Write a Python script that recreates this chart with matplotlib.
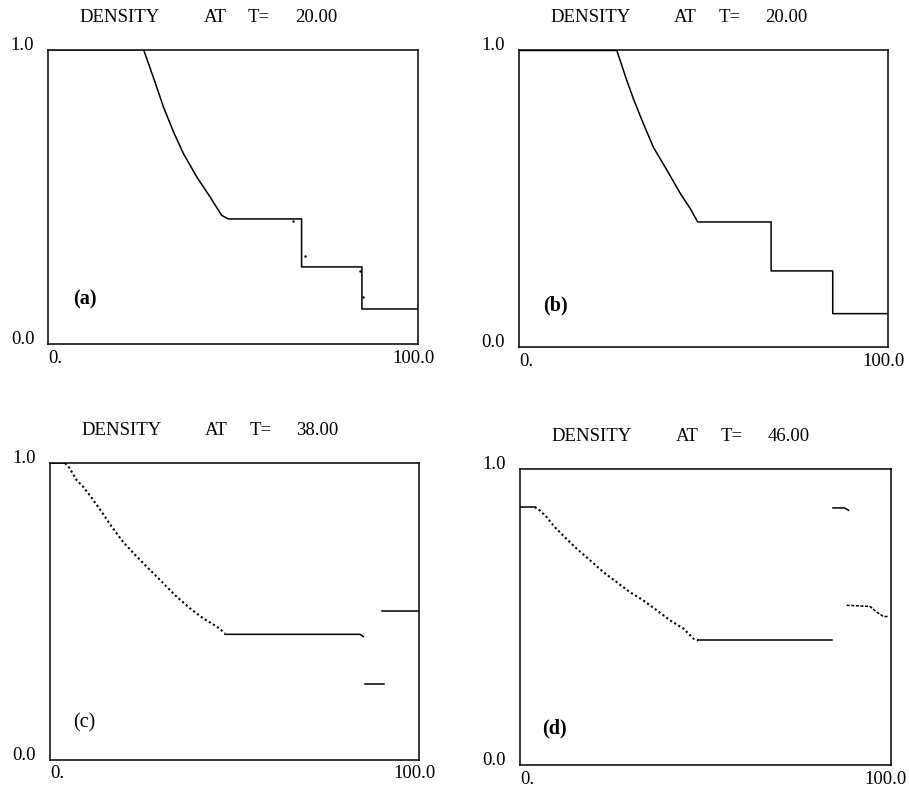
import matplotlib
matplotlib.use("Agg")
import matplotlib.pyplot as plt
from matplotlib.transforms import ScaledTranslation

plt.rcParams["font.family"] = ["Liberation Serif", "DejaVu Serif"]

# ── Data ─────────────────────────────────────────────────────────────
# (a) T=20
a_x = [0, 25.8, 28.9, 31.2, 33.9, 36.6, 40.2, 43.8, 46.9, 48.7, 68.5, 68.5, 84.8, 84.8, 100]
a_y = [1.0, 1.0, 0.889, 0.804, 0.720, 0.646, 0.567, 0.499, 0.437, 0.425, 0.425, 0.262, 0.262, 0.119, 0.119]
a_stray_x = [66.2, 69.5, 84.3, 85.2]
a_stray_y = [0.417, 0.30, 0.247, 0.16]

# (b) T=20
b_x = [0, 26.5, 29.2, 31.0, 33.7, 36.4, 40.1, 43.7, 46.4, 48.4, 68.3, 68.3, 85.0, 85.0, 100]
b_y = [1.0, 1.0, 0.899, 0.837, 0.753, 0.674, 0.596, 0.518, 0.467, 0.422, 0.422, 0.257, 0.257, 0.113, 0.113]

# (c) T=38
c_plateau_x = [0, 4.1]
c_plateau_y = [1.0, 1.0]
c_fan_x = [4.1, 5.2, 7.2, 9.0, 11.3, 14.0, 16.7, 19.9, 23.5, 27.1, 30.7, 34.3, 37.9, 41.5, 45.2, 47.4]
c_fan_y = [1.0, 0.985, 0.943, 0.920, 0.883, 0.836, 0.786, 0.733, 0.685, 0.640, 0.595, 0.550, 0.511, 0.477, 0.449, 0.427]
c_flat_x = [47.4, 84.0, 84.9]
c_flat_y = [0.423, 0.423, 0.415]
c_low_x = [85.3, 90.5]
c_low_y = [0.256, 0.256]
c_high_x = [90.0, 99.8]
c_high_y = [0.503, 0.503]

# (d) T=46
d_plateau_x = [0, 4.0]
d_plateau_y = [0.873, 0.873]
d_fan_x = [4.0, 5.4, 7.2, 9.4, 12.1, 15.3, 18.9, 22.5, 26.1, 29.7, 33.3, 36.9, 40.5, 44.1, 46.8, 48.1]
d_fan_y = [0.873, 0.861, 0.839, 0.805, 0.771, 0.732, 0.693, 0.653, 0.619, 0.585, 0.557, 0.524, 0.490, 0.462, 0.428, 0.422]
d_flat_x = [48.1, 84.1]
d_flat_y = [0.422, 0.422]
d_upper_x = [84.4, 87.5, 88.6]
d_upper_y = [0.870, 0.870, 0.862]
d_lower_x = [88.1, 94.4, 96.2, 98.0, 99.4]
d_lower_y = [0.541, 0.537, 0.518, 0.503, 0.503]

times = ["20.00", "20.00", "38.00", "46.00"]
panel_tags = ["(a)", "(b)", "(c)", "(d)"]

# ── Layout ───────────────────────────────────────────────────────────
fig = plt.figure(figsize=(9.09, 7.89), dpi=100)
rects = [
    [0.053, 0.564, 0.407, 0.373],
    [0.571, 0.560, 0.406, 0.376],
    [0.055, 0.037, 0.406, 0.376],
    [0.572, 0.030, 0.408, 0.375],
]
tag_pos = [(0.068, 0.15), (0.064, 0.141), (0.063, 0.124), (0.061, 0.124)]
axes = [fig.add_axes(r) for r in rects]

LW = 1.1
dotted = (0, (1, 1.3))

ax = axes[0]
ax.plot(a_x, a_y, color="black", lw=LW)
ax.scatter(a_stray_x, a_stray_y, s=3, color="black", lw=0)

ax = axes[1]
ax.plot(b_x, b_y, color="black", lw=LW)

ax = axes[2]
ax.plot(c_plateau_x, c_plateau_y, color="black", lw=LW)
ax.plot(c_fan_x, c_fan_y, color="black", lw=1.5, ls=dotted)
ax.plot(c_flat_x, c_flat_y, color="black", lw=LW)
ax.plot(c_low_x, c_low_y, color="black", lw=LW)
ax.plot(c_high_x, c_high_y, color="black", lw=LW)

ax = axes[3]
ax.plot(d_plateau_x, d_plateau_y, color="black", lw=LW)
ax.plot(d_fan_x, d_fan_y, color="black", lw=1.5, ls=dotted)
ax.plot(d_flat_x, d_flat_y, color="black", lw=LW)
ax.plot(d_upper_x, d_upper_y, color="black", lw=LW)
ax.plot(d_lower_x, d_lower_y, color="black", lw=1.1, ls=(0, (2, 1)))

for ax, t, tag, tp in zip(axes, times, panel_tags, tag_pos):
    ax.set_xlim(0, 100)
    ax.set_ylim(0, 1.0)
    for sp in ax.spines.values():
        sp.set_linewidth(1.1)
        sp.set_color("black")
    ax.set_xticks([0, 100], labels=["0.", "100.0"])
    ax.set_yticks([0, 1], labels=["0.0", "1.0"])
    ax.tick_params(length=0, labelsize=13.5)
    ax.tick_params(axis="x", pad=4)
    ax.tick_params(axis="y", pad=10)
    xlabs = ax.get_xticklabels()
    xlabs[0].set_ha("left")
    # pull "100.0" in slightly so it stays inside the figure
    xlabs[1].set_transform(xlabs[1].get_transform()
                           + ScaledTranslation(-5 / 100, 0, fig.dpi_scale_trans))
    for lab in ax.get_yticklabels():
        lab.set_va("baseline")
    # title pieces
    for xf, s in zip([0.084, 0.42, 0.54, 0.668], ["DENSITY", "AT", "T=", t]):
        ax.text(xf, 1.11, s, transform=ax.transAxes, ha="left", va="center",
                fontsize=13.5)
    ax.text(tp[0], tp[1], tag, transform=ax.transAxes, ha="left", va="center",
            fontsize=14.5, fontweight="bold" if tag != "(c)" else "normal")

fig.savefig("out.png", dpi=100)
